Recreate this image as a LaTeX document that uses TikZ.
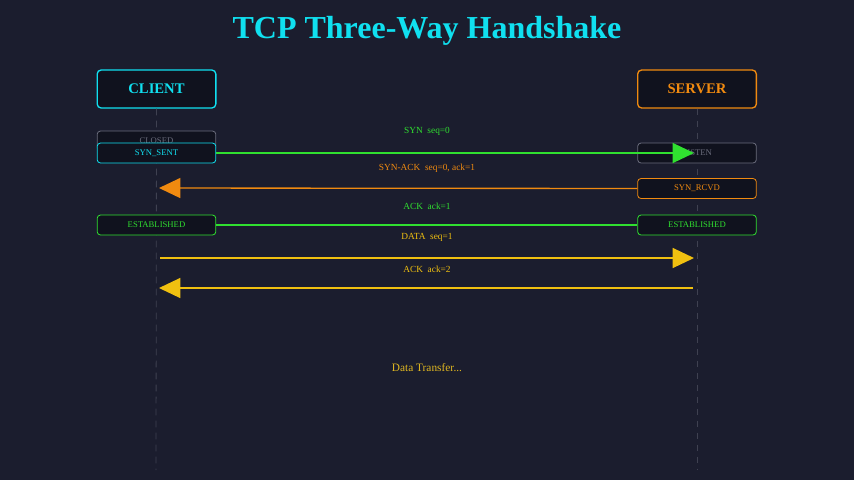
\documentclass[tikz,border=0pt]{standalone}
\usepackage{fontspec}
\setmainfont{Liberation Serif}
\usetikzlibrary{arrows.meta, positioning}
\definecolor{bgc}{HTML}{1B1D2E}
\definecolor{cyn}{HTML}{10E0F0}
\definecolor{org}{HTML}{F08A10}
\definecolor{grn}{HTML}{30E030}
\definecolor{ylw}{HTML}{F0C010}
\definecolor{gry}{HTML}{6A6C7C}
\definecolor{boxbg}{HTML}{10121E}

\begin{document}
\begin{tikzpicture}[
    x=0.75pt, y=-0.75pt,
    host/.style={rectangle, draw=#1, fill=boxbg, rounded corners=3pt, line width=1pt, minimum height=28.5pt, minimum width=89pt, text=#1, font=\bfseries\fontsize{11}{13}\selectfont},
    state/.style={rectangle, draw=#1, fill=boxbg, rounded corners=2.5pt, line width=0.6pt, minimum height=15pt, minimum width=89pt, text=#1, font=\fontsize{6.5}{8}\selectfont},
    msg/.style={line width=1pt, draw=#1, -{Triangle[length=16pt, width=15pt]}},
    lbl/.style={text=#1, font=\fontsize{7}{9}\selectfont},
    life/.style={draw=gry!45!bgc, line width=0.6pt, dash pattern=on 5pt off 4pt},
]

% Frame
\fill[bgc] (0,0) rectangle (854,480);
\node[text=cyn, font=\bfseries\fontsize{24}{27}\selectfont] (title) at (427,31) {TCP Three-Way Handshake};

% Hosts
\node[host=cyn] (client) at (156.5,89) {CLIENT};
\node[host=org] (server) at (697,89) {SERVER};

% Lifelines
\coordinate (cend) at (156,470);
\coordinate (send) at (697,470);
\draw[life] (client.south) -- (cend);
\draw[life] (server.south) -- (send);

% Lifeline points
\coordinate (c2) at (159,188);
\coordinate (s4) at (694,258);
\coordinate (c4) at (160,258);
\coordinate (s5) at (693,288);
\coordinate (c5) at (159,288);
\coordinate (s1) at (694,153);

% States
\node[state=gry] (closed) at (156.5,141) {CLOSED};
\node[state=cyn] (synsent) at (156.5,153) {SYN\_SENT};
\node[state=grn] (estc) at (156.5,225) {ESTABLISHED};
\node[state=gry] (listen) at (697,153) {LISTEN};
\node[state=org] (synrcvd) at (697,188.5) {SYN\_RCVD};
\node[state=grn] (ests) at (697,225) {ESTABLISHED};

% Messages
\draw[msg=grn] (synsent.east) -- (s1);
\draw[msg=org] (synrcvd.west) -- (c2);
\draw[line width=1pt, draw=grn] (estc.east) -- (ests.west);
\draw[msg=ylw] (c4) -- (s4);
\draw[msg=ylw] (s5) -- (c5);

% Labels
\node[lbl=grn] (l1) at (427,131) {SYN\ \ seq=0};
\node[lbl=org] (l2) at (427,168) {SYN-ACK\ \ seq=0, ack=1};
\node[lbl=grn] (l3) at (427,206) {ACK\ \ ack=1};
\node[lbl=ylw] (l4) at (427,237) {DATA\ \ seq=1};
\node[lbl=ylw] (l5) at (427,269) {ACK\ \ ack=2};
\node[text=ylw!85!gray, font=\fontsize{8.5}{10}\selectfont] (xfer) at (427,368) {Data Transfer...};

\end{tikzpicture}
\end{document}
